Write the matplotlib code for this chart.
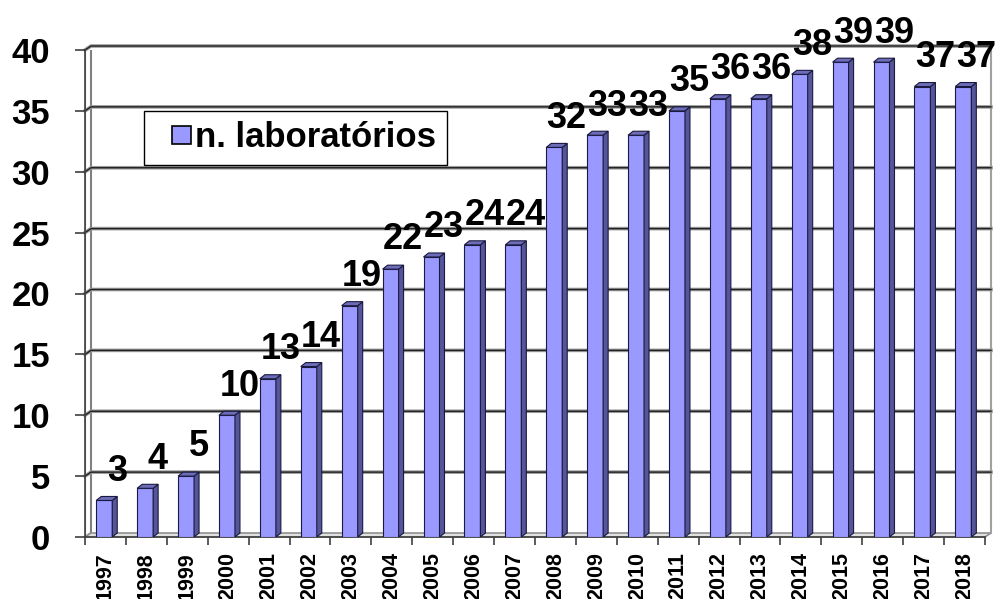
import matplotlib
matplotlib.use('Agg')
import matplotlib.pyplot as plt
from matplotlib.patches import Polygon, Patch, Rectangle
from matplotlib.legend_handler import HandlerPatch
import numpy as np

# dados
anos = ['1997', '1998', '1999', '2000', '2001', '2002', '2003', '2004', '2005', '2006', '2007',
        '2008', '2009', '2010', '2011', '2012', '2013', '2014', '2015', '2016', '2017', '2018']
laboratorios = [3, 4, 5, 10, 13, 14, 19, 22, 23, 24, 24, 32, 33, 33, 35, 36, 36, 38, 39, 39, 37, 37]
serie = 'n. laboratórios'
y_ticks = [0, 5, 10, 15, 20, 25, 30, 35, 40]

plt.rcParams['font.family'] = ['Liberation Sans', 'DejaVu Sans']
plt.rcParams['font.weight'] = 'bold'

fig = plt.figure(figsize=(10.04, 5.99), dpi=100)
ax = fig.add_axes([85 / 1004, 62 / 599, 900 / 1004, 487 / 599])
n = len(anos)
ax.set_xlim(0, n)
ax.set_ylim(0, 40)

# profundidade 3D (em unidades de dados)
px_x = 900 / n
px_y = 487 / 40
dx, dy = 6 / px_x, 4 / px_y

# parede do fundo, lateral e chão
ax.add_patch(Polygon([(0, 0), (dx, dy), (dx, 40 + dy), (0, 40)], closed=True,
                     facecolor='white', edgecolor='#808080', lw=1.5, zorder=0))
ax.add_patch(Polygon([(0, 0), (n, 0), (n + dx, dy), (dx, dy)], closed=True,
                     facecolor='#e0e0e0', edgecolor='#909090', lw=1.2, zorder=0, clip_on=False))
ax.plot([n + dx, n + dx], [dy, 40 + dy], color='#a0a0a0', lw=1.5, clip_on=False, zorder=0)
for v in y_ticks[1:]:
    ax.plot([0, dx, n + dx], [v, v + dy, v + dy], color='#9a9a9a', lw=2.6, clip_on=False, zorder=0)
    ax.plot([0, dx, n + dx], [v, v + dy, v + dy], color='#202020', lw=1.0, clip_on=False, zorder=0)

# barras 3D
xs = np.arange(n) + 0.47
w = 16 / px_x
bd, bh = 5 / px_x, 4 / px_y
ax.bar(xs, laboratorios, width=w, color='#9999FF', edgecolor='#1a1a40', lw=0.8, zorder=3)
for x, v in zip(xs, laboratorios):
    x0, x1 = x - w / 2, x + w / 2
    ax.add_patch(Polygon([(x1, 0), (x1 + bd, bh), (x1 + bd, v + bh), (x1, v)], closed=True,
                         facecolor='#55559A', edgecolor='#1a1a40', lw=0.8, zorder=3))
    ax.add_patch(Polygon([(x0, v), (x0 + bd, v + bh), (x1 + bd, v + bh), (x1, v)], closed=True,
                         facecolor='#6C6CB8', edgecolor='#1a1a40', lw=0.8, zorder=3))
    ax.annotate(str(v), (x, v), xytext=(9, 21), textcoords='offset points',
                ha='center', va='center', fontsize=26, fontweight='bold', zorder=5,
                annotation_clip=False)

# eixos
for s in ['top', 'right']:
    ax.spines[s].set_visible(False)
ax.spines['left'].set_color('#404040')
ax.spines['bottom'].set_color('#404040')
ax.spines['left'].set_linewidth(1.2)
ax.spines['bottom'].set_linewidth(1.2)
ax.set_yticks(y_ticks)
ax.set_yticklabels([str(t) for t in y_ticks], fontsize=25, fontweight='bold')
ax.tick_params(axis='y', length=7, width=1.2, color='#404040', pad=18)
ax.set_xticks(np.arange(n) + 0.5)
ax.set_xticklabels(anos, rotation=90, fontsize=15.5, fontweight='bold')
ax.set_xticks(np.arange(n + 1), minor=True)
ax.tick_params(axis='x', which='major', length=0, pad=11)
ax.tick_params(axis='x', which='minor', length=6, width=1.2, color='#404040')


# legenda: quadrado encostado ao texto, com margem à esquerda
def quadrado(legend, orig_handle, xdescent, ydescent, width, height, fontsize):
    s = 13
    return Rectangle((-xdescent + width - s, -ydescent + (height - s) / 2), s, s)


handle = Patch(facecolor='#9999FF', edgecolor='black', lw=1.2)
leg = fig.legend([handle], [serie], loc='upper left',
                 bbox_to_anchor=(144 / 1004, 1 - 111 / 599), borderaxespad=0,
                 prop={'size': 25, 'weight': 'bold'}, handlelength=1.04, handleheight=0.55,
                 handletextpad=0.14, borderpad=0.3, fancybox=False, framealpha=1,
                 handler_map={Patch: HandlerPatch(patch_func=quadrado)})
leg.get_frame().set_edgecolor('black')
leg.get_frame().set_linewidth(1.0)

fig.savefig('out.png', dpi=100)
